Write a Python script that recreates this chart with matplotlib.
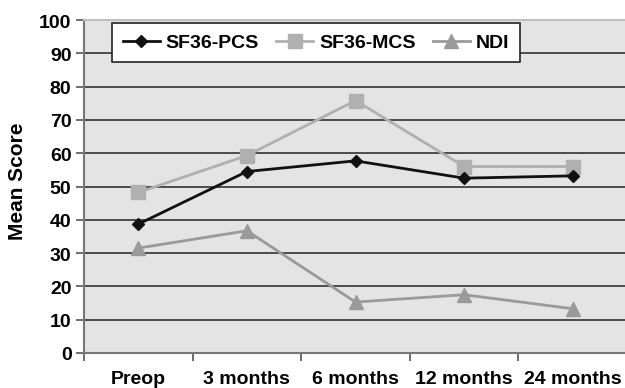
import matplotlib
matplotlib.use("Agg")
import matplotlib.pyplot as plt
import numpy as np

categories = ["Preop", "3 months", "6 months", "12 months", "24 months"]
pcs = [38.7, 54.5, 57.7, 52.5, 53.2]
mcs = [48.2, 59.3, 75.8, 56.0, 56.0]
ndi = [31.5, 36.7, 15.3, 17.5, 13.3]
yticks = list(range(0, 101, 10))

plt.rcParams['font.family'] = ['Liberation Sans', 'DejaVu Sans']
plt.rcParams['font.weight'] = 'bold'

fig = plt.figure(figsize=6.25 * np.array([1, 389 / 625]), dpi=100)
ax = fig.add_axes([84 / 625, 1 - 354 / 389, (627 - 84) / 625, (354 - 21) / 389])
ax.set_facecolor('#e4e4e4')

x = np.arange(len(categories))
ax.plot(x, pcs, color='#111111', lw=2, marker='D', ms=6.5, label='SF36-PCS', zorder=5)
ax.plot(x, mcs, color='#b0b0b0', lw=2, marker='s', ms=10, label='SF36-MCS', zorder=4)
ax.plot(x, ndi, color='#9a9a9a', lw=2, marker='^', ms=9.5, label='NDI', zorder=3)

ax.set_xlim(-0.5, len(categories) - 0.5)
ax.set_ylim(0, 100)
ax.set_yticks(yticks)
ax.set_yticklabels([str(v) for v in yticks], fontsize=14, fontweight='bold')
ax.set_xticks(x)
ax.set_xticklabels(categories, fontsize=14, fontweight='bold')
ax.set_xticks(np.arange(-0.5, len(categories)), minor=True)
ax.tick_params(axis='x', which='major', length=0, pad=12)
ax.tick_params(axis='x', which='minor', length=6, width=1.2, color='#555555', direction='out')
ax.tick_params(axis='y', length=6, width=1.2, color='#555555', direction='out', pad=3)
ax.yaxis.grid(True, color='#222222', lw=1.1)
ax.set_axisbelow(True)
for s in ['left', 'bottom']:
    ax.spines[s].set_color('#777777')
    ax.spines[s].set_linewidth(1.5)
ax.spines['top'].set_color('#c0c0c0')
ax.spines['top'].set_linewidth(1.5)
ax.spines['right'].set_visible(False)

ax.set_ylabel('Mean Score', fontsize=15, fontweight='bold')
ax.yaxis.set_label_coords(-57 / 543, 0.52)

leg = ax.legend(loc='upper left', bbox_to_anchor=((112 - 84) / 543, (354 - 24) / 333),
                ncol=3, frameon=True, fancybox=False, fontsize=14,
                handlelength=1.9, handletextpad=0.3, columnspacing=0.9,
                borderpad=0.55, borderaxespad=0)
leg.get_frame().set_edgecolor('#222222')
leg.get_frame().set_linewidth(1.2)
leg.get_frame().set_facecolor('white')
leg.get_frame().set_alpha(1)
for t in leg.get_texts():
    t.set_fontweight('bold')

fig.savefig('out.png', dpi=100)
